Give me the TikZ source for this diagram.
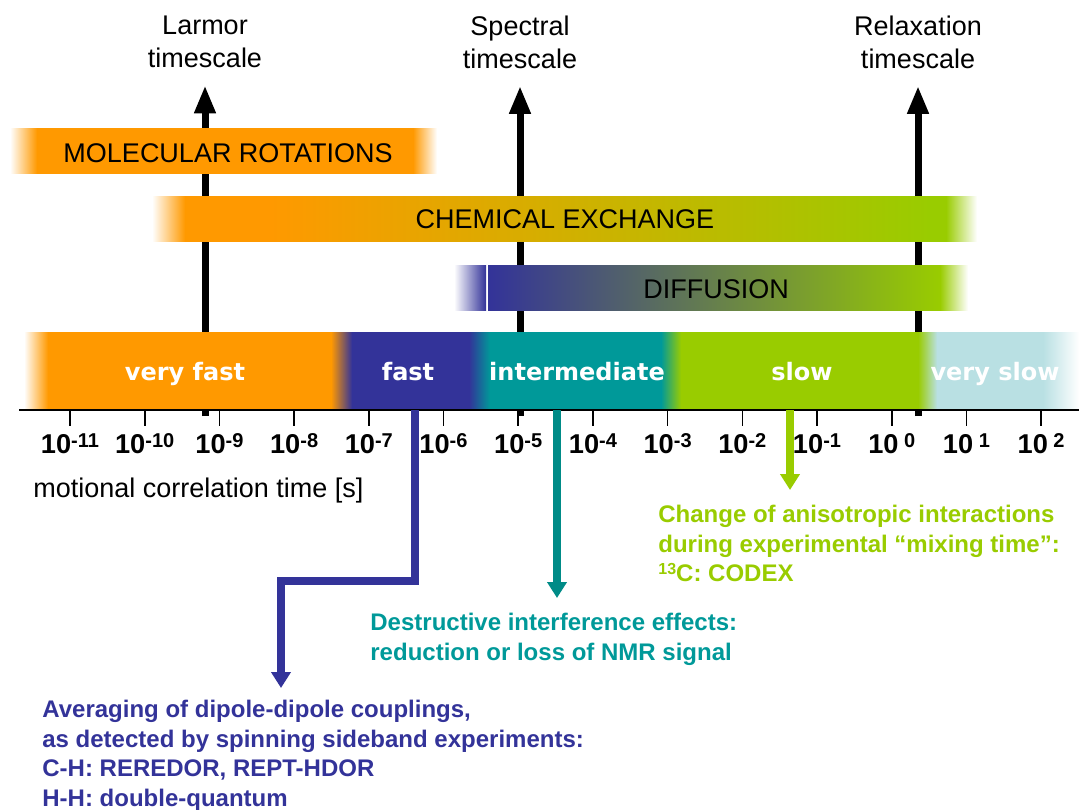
\documentclass[tikz,border=0pt]{standalone}
\usepackage{fontspec}
\setmainfont{Liberation Sans}
\newfontfamily\verd{DejaVu Sans}
\usepackage{xcolor}
\usepackage{tikz}
\usetikzlibrary{arrows.meta}
\definecolor{orng}{HTML}{FF9900}
\definecolor{dblue}{HTML}{333399}
\definecolor{tealc}{HTML}{009999}
\definecolor{teald}{HTML}{008B87}
\definecolor{lgreen}{HTML}{99CC00}
\definecolor{lblue}{HTML}{B9E0E3}
\newcommand{\tpow}[1]{10{\fontsize{10}{11}\selectfont\raisebox{2.8pt}{#1}}}
\tikzset{
  axis/.style={draw=black, line width=1pt},
  tk/.style={draw=black, line width=0.8pt},
  big/.style={draw=black, line width=3.5pt, -{Triangle[length=14pt,width=10pt]}, shorten >=8.5pt},
  call/.style={line width=4pt, -{Triangle[length=8pt,width=9.5pt]}},
  ttl/.style={align=center, inner sep=0pt, font=\fontsize{13.5}{16.5}\selectfont},
  hdr/.style={inner sep=0pt, anchor=base, font=\fontsize{13.5}{16.5}\selectfont},
  rng/.style={inner sep=0pt, anchor=base, text=white, font=\verd\bfseries\fontsize{12}{14}\selectfont},
  pw/.style={inner sep=0pt, anchor=base, font=\bfseries\fontsize{13.6}{15}\selectfont},
  note/.style={inner sep=0pt, anchor=north west, align=left, font=\bfseries\fontsize{12}{14.7}\selectfont},
}

\begin{document}
\begin{tikzpicture}[x=0.5pt, y=-0.5pt]
  \useasboundingbox (0,0) rectangle (1079,809);
  \node[ttl] (lar) at (205,42) {Larmor\\timescale};
  \node[ttl] (spc) at (520,42) {Spectral\\timescale};
  \node[ttl] (rlx) at (918,42) {Relaxation\\timescale};
  \coordinate (larb) at (205,416);
  \coordinate (spcb) at (520,416);
  \coordinate (rlxb) at (918,416);
  \draw[big] (larb) -- (lar.south);
  \draw[big] (spcb) -- (spc.south);
  \draw[big] (rlxb) -- (rlx.south);
  % bands
  \foreach \a/\b/\ca/\cb in {10/37/white/orng, 37/413/orng/orng, 413/437/orng/white}
    \fill[left color=\ca, right color=\cb] (\a,128) rectangle (\b,173);
  \foreach \a/\b/\ca/\cb in {152/185/white/orng, 185/270/orng/orng, 270/930/orng/lgreen,
      930/946/lgreen/lgreen, 946/977/lgreen/white}
    \fill[left color=\ca, right color=\cb] (\a,196) rectangle (\b,241);
  \foreach \a/\b/\ca/\cb in {454/486/white/dblue, 488/940/dblue/lgreen, 940/968/lgreen/white}
    \fill[left color=\ca, right color=\cb] (\a,265) rectangle (\b,310);
  \foreach \a/\b/\ca/\cb in {24/48/white/orng, 48/331/orng/orng, 331/352/orng/dblue,
      352/469/dblue/dblue, 469/490/dblue/tealc, 490/661/tealc/tealc, 661/681/tealc/lgreen,
      681/918/lgreen/lgreen, 918/937/lgreen/lblue, 937/1043/lblue/lblue, 1043/1079/lblue/white}
    \fill[left color=\ca, right color=\cb] (\a,332) rectangle (\b,409);
  \node[hdr] (molr) at (228,162) {MOLECULAR ROTATIONS};
  \node[hdr] (chex) at (565,228) {CHEMICAL EXCHANGE};
  \node[hdr] (diff) at (716,298) {DIFFUSION};
  \node[rng] (vfst) at (185,380) {very fast};
  \node[rng] (fst) at (408,380) {fast};
  \node[rng] (intm) at (577,380) {intermediate};
  \node[rng] (slw) at (802,380) {slow};
  \node[rng] (vslw) at (995,380) {very slow};
  % axis
  \draw[axis] (19,410) -- (1079,410);
  \foreach \p [count=\k from 0] in {-11,-10,-9,-8,-7,-6,-5,-4,-3,-2,-1,~0,~1,~2} {
    \draw[tk] ({70+74.7*\k},410) -- ({70+74.7*\k},426);
    \node[pw] (t\k) at ({70+74.7*\k},453) {\tpow{\p}};
  }
  \node[hdr, anchor=base west] (tcor) at (33,497) {motional correlation time [s]};
  % callouts
  \coordinate (fastb) at (415,410);
  \coordinate (fastk) at (281,581);
  \coordinate (intb) at (557,410);
  \coordinate (slowb) at (790,410);
  \node[note, text=dblue] (avg) at (42,700) {Averaging of dipole-dipole couplings,\\as detected by spinning sideband experiments:\\C-H: REREDOR, REPT-HDOR\\H-H: double-quantum};
  \node[note, text=tealc] (dst) at (370,613) {Destructive interference effects:\\reduction or loss of NMR signal};
  \node[note, text=lgreen] (chg) at (658,505) {Change of anisotropic interactions\\during experimental ``mixing time'':\\{\fontsize{8}{9}\selectfont\raisebox{3.5pt}{13}}C: CODEX};
  \draw[call, dblue, shorten >=6pt] (fastb) |- (fastk) -- (fastk |- avg.north);
  \draw[call, teald, shorten >=7.5pt] (intb) -- (intb |- dst.north);
  \draw[call, lgreen, shorten >=7.5pt] (slowb) -- (slowb |- chg.north);
\end{tikzpicture}
\end{document}
